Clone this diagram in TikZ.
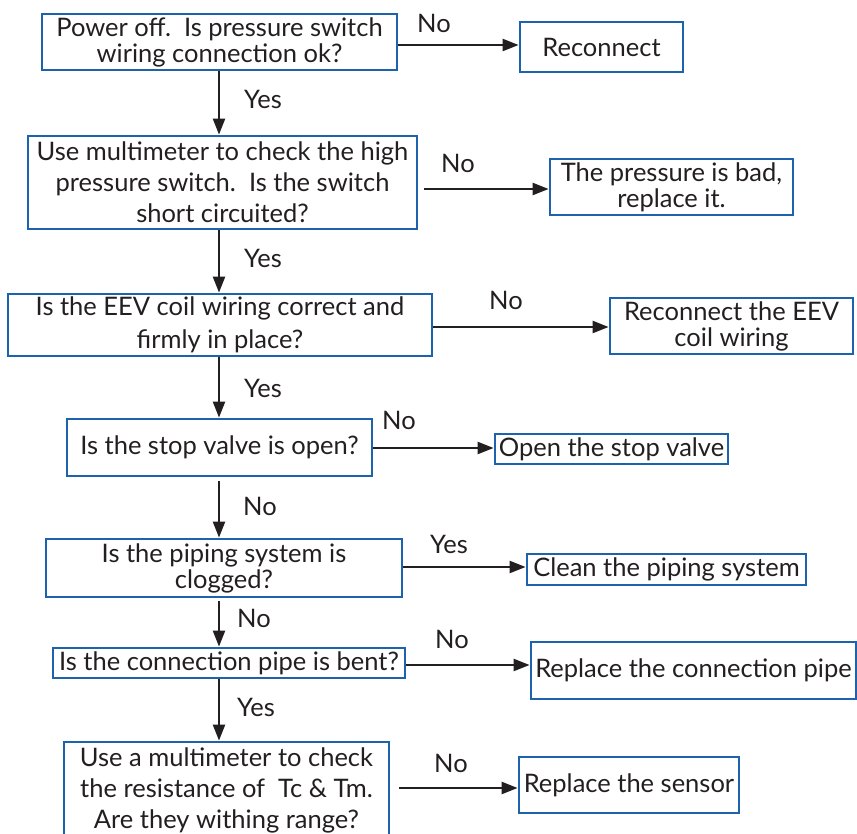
\documentclass[tikz,border=0pt]{standalone}
\usepackage{fontspec}
\setmainfont{Lato}
\usetikzlibrary{arrows.meta}
\definecolor{boxblue}{RGB}{28,98,172}
\definecolor{ink}{RGB}{35,31,32}
\tikzset{
 box/.style={draw=boxblue, line width=2.8pt, inner sep=0pt, align=center, text=ink, font=\fontsize{25.5}{26}\selectfont},
 wide/.style={font=\fontsize{25.5}{31}\selectfont},
 wider/.style={font=\fontsize{25.5}{33}\selectfont},
 arr/.style={draw=ink, line width=2.2pt, -{Triangle[length=16pt,width=12pt]}},
 lbl/.style={text=ink, inner sep=0pt, font=\fontsize{25.5}{26}\selectfont},
}
\begin{document}
\begin{tikzpicture}[x=1pt,y=-1pt]
\useasboundingbox (0,0) rectangle (857,834);
\clip (0,0) rectangle (857,834);
\coordinate (ax) at (219,0);
% left column
\node[box, minimum width=355pt, minimum height=56pt] (b1) at (219.5,42) {Power off.\ \ Is pressure switch\\wiring connection ok?};
\node[box, wide, minimum width=389pt, minimum height=93pt] (b2) at (222.5,182.5) {Use multimeter to check the high\\pressure switch.\ \ Is the switch\\short circuited?};
\node[box, wider, minimum width=424pt, minimum height=62pt] (b3) at (220,325) {Is the EEV coil wiring correct and\\firmly in place?};
\node[box, minimum width=305pt, minimum height=57pt] (b4) at (219.5,447.5) {Is the stop valve is open?};
\node[box, minimum width=356pt, minimum height=58pt] (b5) at (224,568) {Is the piping system is\\clogged?};
\node[box, minimum width=352pt, minimum height=30pt] (b6) at (229,663) {Is the connection pipe is bent?};
\node[box, wide, minimum width=325pt, minimum height=96pt] (b7) at (226.5,790) {Use a multimeter to check\\the resistance of\ \ Tc \& Tm.\\Are they withing range?};
% right column
\node[box, minimum width=163pt, minimum height=50pt] (r1) at (601.5,47) {Reconnect};
\node[box, minimum width=243pt, minimum height=56pt] (r2) at (671.5,187) {The pressure is bad,\\replace it.};
\node[box, minimum width=243pt, minimum height=56pt] (r3) at (731.5,326) {Reconnect the EEV\\coil wiring};
\node[box, minimum width=233pt, minimum height=30pt] (r4) at (611.5,449) {Open the stop valve};
\node[box, minimum width=279pt, minimum height=31pt] (r5) at (666.5,569.5) {Clean the piping system};
\node[box, minimum width=325pt, minimum height=57pt] (r6) at (693.5,670.5) {Replace the connection pipe};
\node[box, minimum width=220pt, minimum height=56pt] (r7) at (629,785) {Replace the sensor};
% vertical arrows
\draw[arr] (b1.south -| ax) -- (b2.north -| ax);
\draw[arr] (b2.south -| ax) -- (b3.north -| ax);
\draw[arr] (b3.south -| ax) -- (b4.north -| ax);
\draw[arr, shorten <=4pt] (b4.south -| ax) -- (b5.north -| ax);
\draw[arr, shorten <=3pt] (b5.south -| ax) -- (b6.north -| ax);
\draw[arr] (b6.south -| ax) -- (b7.north -| ax);
% horizontal arrows
\draw[arr] (b1.east |- 0,45) -- (r1.west |- 0,45);
\draw[arr, shorten <=6pt] (b2.east |- 0,189) -- (r2.west |- 0,189);
\draw[arr] (b3.east |- 0,327) -- (r3.west |- 0,327);
\draw[arr] (b4.east |- 0,448) -- (r4.west |- 0,448);
\draw[arr] (b5.east |- 0,567) -- (r5.west |- 0,567);
\draw[arr] (b6.east |- 0,665) -- (r6.west |- 0,665);
\draw[arr, shorten <=9pt] (b7.east |- 0,788) -- (r7.west |- 0,788);
% labels
\node[lbl] (l1) at (434,23) {No};
\node[lbl] (y1) at (263,99) {Yes};
\node[lbl] (l2) at (458,163) {No};
\node[lbl] (y2) at (263,258) {Yes};
\node[lbl] (l3) at (506,300) {No};
\node[lbl] (y3) at (263,388) {Yes};
\node[lbl] (l4) at (399,420) {No};
\node[lbl] (n4) at (260,506) {No};
\node[lbl] (l5) at (449,544) {Yes};
\node[lbl] (n5) at (254,618) {No};
\node[lbl] (l6) at (452,639) {No};
\node[lbl] (y6) at (256,707) {Yes};
\node[lbl] (l7) at (451,763) {No};
\end{tikzpicture}
\end{document}
